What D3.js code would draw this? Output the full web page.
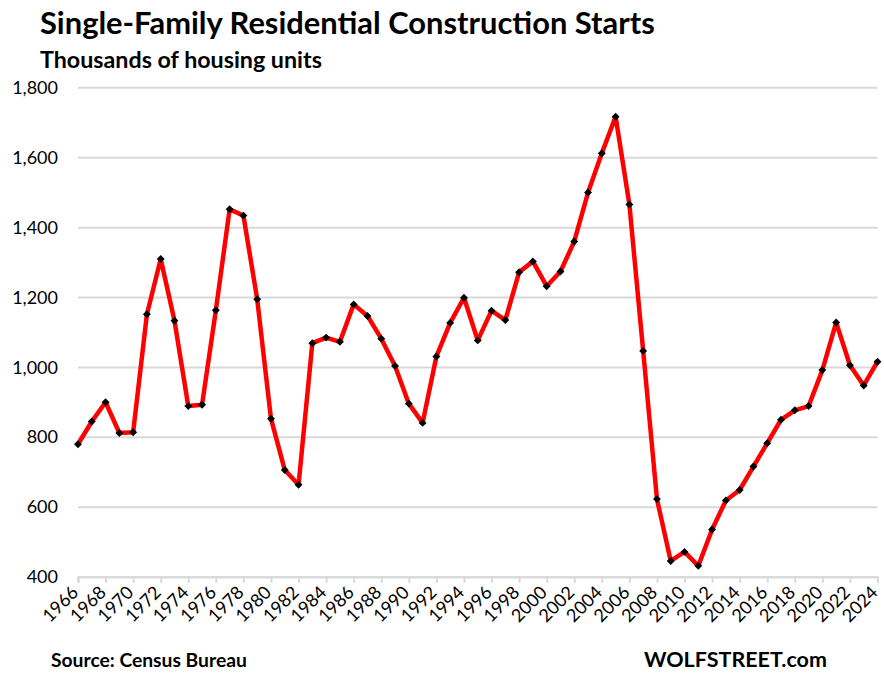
<!DOCTYPE html>
<html><head><meta charset="utf-8">
<script src="https://cdn.jsdelivr.net/npm/d3@7"></script>
<style>body{margin:0;background:#fff}svg{display:block}text{font-family:Lato,"Open Sans",sans-serif}</style>
</head><body>
<svg id="c" width="884" height="677"></svg>
<script>
const years = d3.range(1966, 2025);
const starts = [779,844,899,811,813,1151,1309,1132,888,892,1162,1451,1433,1194,852,705,663,1068,1084,1072,1179,1146,1081,1003,895,840,1030,1126,1198,1076,1161,1134,1271,1302,1231,1273,1359,1499,1611,1716,1465,1046,622,445,471,431,535,618,648,715,782,849,876,888,991,1127,1005,947,1015];
const yTicks = [400,600,800,1000,1200,1400,1600,1800];
const xTickYears = d3.range(1966, 2025, 2);
const title = "Single-Family Residential Construction Starts";
const subtitle = "Thousands of housing units";
const source = "Source: Census Bureau";
const brand = "WOLFSTREET.com";

const svg = d3.select("#c");
const x = d3.scaleLinear().domain([1966, 2024]).range([78, 877.5]);
const y = d3.scaleLinear().domain([400, 1800]).range([576.7, 87.3]);

function fitText(sel, target){
  const w = sel.node().getComputedTextLength();
  const fs = parseFloat(sel.attr("font-size"));
  sel.attr("font-size", fs * target / w);
}

fitText(svg.append("text").attr("x", 40).attr("y", 34).attr("font-size", 27).attr("font-weight", 700).attr("fill","#000").text(title), 615);
fitText(svg.append("text").attr("x", 40).attr("y", 68).attr("font-size", 21).attr("font-weight", 700).attr("fill","#000").text(subtitle), 282);

// gridlines
const gy = svg.append("g");
gy.call(d3.axisLeft(y).tickValues(yTicks).tickSize(-(877.5-78)).tickFormat(d3.format(",")).tickPadding(20))
  .attr("transform","translate(78,0)");
gy.select(".domain").remove();
gy.selectAll(".tick line").attr("stroke","#d9d9d9").attr("stroke-width",2);
gy.selectAll(".tick text").attr("font-size",18).attr("fill","#000").attr("font-family","Lato,sans-serif").attr("dy","0.34em");

// x axis
const gx = svg.append("g").attr("transform","translate(0,576.7)");
gx.call(d3.axisBottom(x).tickValues(xTickYears).tickSize(6).tickFormat(d3.format("d")));
gx.select(".domain").attr("stroke","#d9d9d9").attr("stroke-width",2);
gx.selectAll(".tick line").attr("stroke","#d9d9d9").attr("stroke-width",2);
gx.selectAll(".tick text")
  .attr("font-size",18).attr("fill","#000").attr("font-family","Lato,sans-serif")
  .attr("text-anchor","end").attr("dy",0).attr("y",0)
  .attr("transform","translate(1,17) rotate(-45)");

// line
const line = d3.line().x((d,i)=>x(years[i])).y(d=>y(d));
svg.append("path").datum(starts).attr("d", line).attr("fill","none")
  .attr("stroke","#ff0000").attr("stroke-width",4.5).attr("stroke-linejoin","round");

svg.append("g").selectAll("path").data(starts).join("path")
  .attr("d", d3.symbol(d3.symbolDiamond2 || d3.symbolDiamond, 40))
  .attr("transform",(d,i)=>`translate(${x(years[i])},${y(d)})`)
  .attr("fill","#000");

fitText(svg.append("text").attr("x", 51).attr("y", 667).attr("font-size", 17).attr("font-weight",700).attr("fill","#000").text(source), 196);
fitText(svg.append("text").attr("x", 644).attr("y", 667).attr("font-size", 22).attr("font-weight",700).attr("fill","#000").text(brand), 183);
</script>
</body></html>
